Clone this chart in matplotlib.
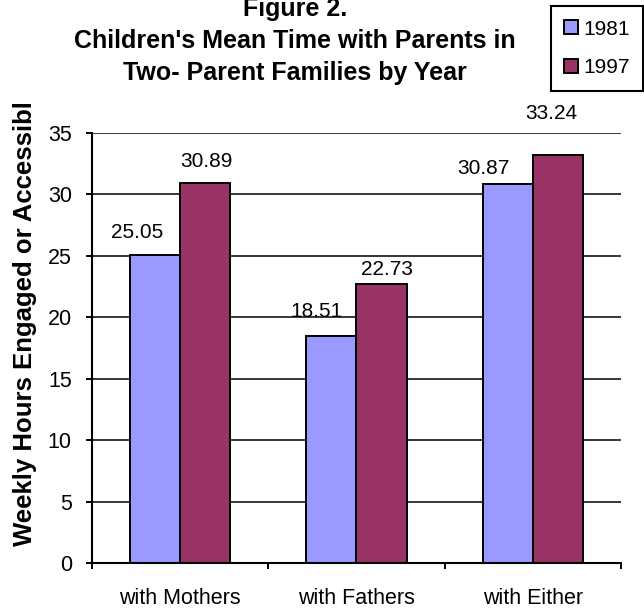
import numpy as np
import matplotlib
matplotlib.use("Agg")
from matplotlib import pyplot as plt
from matplotlib.patches import Patch

plt.rcParams['font.family'] = ['Liberation Sans', 'DejaVu Sans']

categories = ['with Mothers', 'with Fathers', 'with Either']
years = ['1981', '1997']
hours_1981 = [25.05, 18.51, 30.87]
hours_1997 = [30.89, 22.73, 33.24]
y_ticks = [0, 5, 10, 15, 20, 25, 30, 35]

# label nudges in pixels (dx, dy from bar top), Excel-style placement
nudge_1981 = [(-18, 23), (-15, 24), (-24, 15)]
nudge_1997 = [(1, 22), (5, 14), (-7, 41)]

col_1981 = '#9999FF'
col_1997 = '#993366'

fig = plt.figure(figsize=(6.44, 6.16), dpi=100)
ax = fig.add_axes([92/644, 1 - 563/616, (621 - 92)/644, (563 - 133)/616])

x = np.arange(len(categories))
w = 0.284
ax.set_axisbelow(True)
b1 = ax.bar(x - w/2, hours_1981, w, color=col_1981, edgecolor='black', linewidth=1.4)
b2 = ax.bar(x + w/2, hours_1997, w, color=col_1997, edgecolor='black', linewidth=1.4)

px = 0.72  # points per pixel at 100 dpi
for bars, vals, nudges in [(b1, hours_1981, nudge_1981), (b2, hours_1997, nudge_1997)]:
    for bar, v, (dx, dy) in zip(bars, vals, nudges):
        ax.annotate(f'{v:.2f}', (bar.get_x() + bar.get_width()/2, v),
                    xytext=(dx*px, dy*px), textcoords='offset points',
                    ha='center', va='center', fontsize=15)

ax.set_ylim(0, 35)
ax.set_xlim(-0.5, 2.5)
ax.set_yticks(y_ticks)
ax.yaxis.grid(True, color='black', linewidth=1.1)
ax.tick_params(axis='y', labelsize=15.5, length=4.5, width=1.4, pad=10, direction='out')

# category boundaries get the ticks, names sit centred underneath
ax.set_xticks([-0.5, 0.5, 1.5, 2.5])
ax.set_xticklabels([])
ax.set_xticks(x, minor=True)
ax.set_xticklabels(categories, minor=True, fontsize=15.5)
ax.tick_params(axis='x', which='major', length=4.5, width=1.4, direction='out')
ax.tick_params(axis='x', which='minor', length=0, pad=18)

for s in ['top', 'right']:
    ax.spines[s].set_visible(False)
for s in ['left', 'bottom']:
    ax.spines[s].set_linewidth(1.5)

fig.text(295/644, 1 - 80/616,
         "Figure 2.\nChildren's Mean Time with Parents in\nTwo- Parent Families by Year",
         ha='center', va='baseline', fontsize=18, fontweight='bold', linespacing=1.42)

fig.text(25/644, 1 - 324/616, 'Weekly Hours Engaged or Accessibl',
         rotation=90, ha='center', va='center', fontsize=18.5, fontweight='bold')

handles = [Patch(facecolor=col_1981, edgecolor='black', linewidth=1.4),
           Patch(facecolor=col_1997, edgecolor='black', linewidth=1.4)]
leg = fig.legend(handles, years, loc='upper right', bbox_to_anchor=(643/644, 1 - 6/616),
                 fontsize=15, frameon=True, fancybox=False, framealpha=1,
                 handlelength=0.65, handleheight=0.65, handletextpad=0.25,
                 labelspacing=0.95, borderpad=0.65, borderaxespad=0)
leg.get_frame().set_edgecolor('black')
leg.get_frame().set_linewidth(1.5)

fig.savefig('out.png', dpi=100)
